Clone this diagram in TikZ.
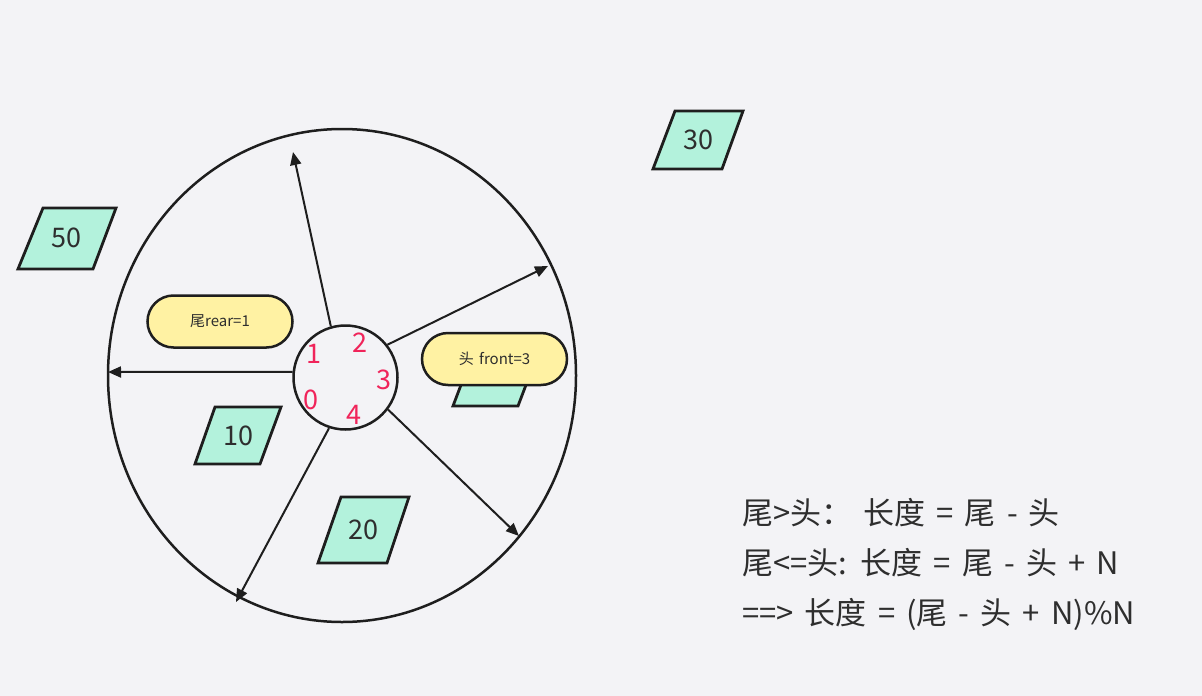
\documentclass[tikz,border=0pt]{standalone}
\usepackage{fontspec}
\newfontfamily\cjk{Noto Sans CJK SC}
\newfontfamily\cjkwide[WordSpace=1.6]{Noto Sans CJK SC}
\usetikzlibrary{shapes.geometric,arrows.meta}
\definecolor{bg}{HTML}{F3F3F6}
\definecolor{teal}{HTML}{B3F2DC}
\definecolor{pill}{HTML}{FFF2A3}
\definecolor{idx}{HTML}{F0245A}
\definecolor{ink}{HTML}{1E1E1E}
\definecolor{txt}{HTML}{2E2E2E}
\tikzset{
  para/.style={draw=ink, fill=teal, line width=2.8pt, line join=miter},
  paratxt/.style={font=\cjk\fontsize{27}{30}\selectfont, text=txt, inner sep=0pt},
  idxtxt/.style={font=\cjk\fontsize{27}{30}\selectfont, text=idx, inner sep=0pt},
  pillbox/.style={draw=ink, fill=pill, line width=2.5pt, rounded corners=26pt,
    minimum width=145pt, minimum height=52pt, inner sep=0pt,
    font=\cjk\fontsize{15}{18}\selectfont, text=txt},
  arr/.style={draw=ink, line width=2pt, -{Triangle[length=13pt,width=11pt]}},
  formula/.style={font=\cjkwide\fontsize{31}{34}\selectfont, text=txt, anchor=base west, inner sep=0pt}
}
\begin{document}
\begin{tikzpicture}[x=1pt,y=-1pt]
\fill[bg] (0,0) rectangle (1202,696);
\useasboundingbox (0,0) rectangle (1202,696);

% big ring
\node[ellipse, draw=ink, line width=2.5pt, minimum width=468pt, minimum height=493pt, inner sep=0pt] (big) at (342,375.5) {};

% hidden parallelogram behind front label
\draw[para] (453,406) -- (518,406) -- (540,348) -- (475,348) -- cycle;

% parallelograms
\draw[para] (18,269) -- (93,269) -- (116,208) -- (43,208) -- cycle;
\node[paratxt] (v50) at (66,238) {50};
\draw[para] (653,169) -- (722,169) -- (743,111) -- (675,111) -- cycle;
\node[paratxt] (v30) at (698,140) {30};
\draw[para] (195,464) -- (260,464) -- (281,407) -- (215,407) -- cycle;
\node[paratxt] (v10) at (238,436) {10};
\draw[para] (318,563) -- (387,563) -- (409,497) -- (341,497) -- cycle;
\node[paratxt] (v20) at (363,530) {20};

% centre circle
\node[circle, draw=ink, line width=2.5pt, minimum size=104pt, inner sep=0pt] (c) at (345.5,377.5) {};

% arrow tips
\coordinate (t1) at (293,152);
\coordinate (t2) at (548,266);
\coordinate (t3) at (108,372);
\coordinate (t4) at (236,602);
\coordinate (t5) at (519,536);
\draw[arr] (c.106) -- (t1);
\draw[arr] (c.38) -- (t2);
\draw[arr] (c.174) -- (t3);
\draw[arr] (c.252) -- (t4);
\draw[arr] (c.323) -- (t5);

% indices
\node[idxtxt] (i1) at (314,353.5) {1};
\node[idxtxt] (i2) at (359.5,343) {2};
\node[idxtxt] (i3) at (383.5,380) {3};
\node[idxtxt] (i0) at (311,399.5) {0};
\node[idxtxt] (i4) at (353.5,415) {4};

% labels
\node[pillbox] (rear) at (220,321.5) {尾rear=1};
\node[pillbox] (front) at (494.5,359) {头 front=3};

% formulas
\node[formula] (f1) at (742,524) {尾>头： 长度 = 尾 - 头};
\node[formula] (f2) at (742,574) {尾<=头: 长度 = 尾 - 头 + N};
\node[formula] (f3) at (742,624) {==> 长度 = (尾 - 头 + N)\%N};
\end{tikzpicture}
\end{document}
